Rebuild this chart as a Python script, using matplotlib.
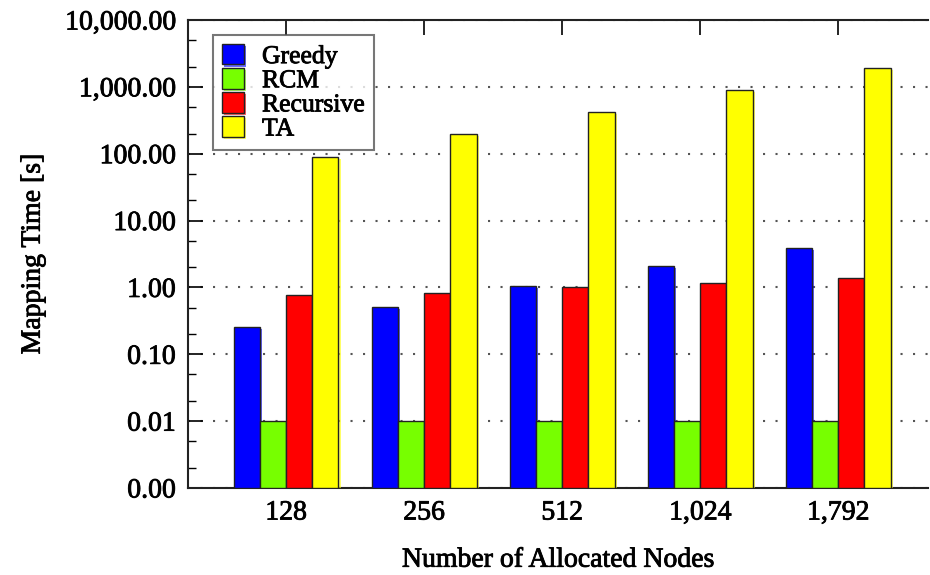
import matplotlib
matplotlib.use("Agg")
import matplotlib.pyplot as plt
import matplotlib.patheffects as pe
import numpy as np
from matplotlib.ticker import FixedLocator, FixedFormatter

categories = ["128", "256", "512", "1,024", "1,792"]
greedy = [0.26, 0.51, 1.05, 2.08, 3.87]
rcm = [0.01, 0.01, 0.01, 0.01, 0.01]
recursive = [0.77, 0.82, 1.03, 1.16, 1.38]
ta = [89, 196, 420, 890, 1900]
series_names = ["Greedy", "RCM", "Recursive", "TA"]
series_colors = ["#0000ff", "#77ff00", "#ff0000", "#ffff00"]
ytick_values = [0.001, 0.01, 0.1, 1, 10, 100, 1000, 10000]
ytick_labels = ["0.00", "0.01", "0.10", "1.00", "10.00", "100.00", "1,000.00", "10,000.00"]

plt.rcParams['font.family'] = ['Liberation Serif', 'DejaVu Serif']

thick = [pe.withStroke(linewidth=0.6, foreground='black')]

fig = plt.figure(figsize=(9.3, 5.75), dpi=100)
ax = fig.add_axes([188/930, 87/575, 740/930, 468/575])

ymin = 0.001
x = np.arange(len(categories))
width = 0.19
all_series = [greedy, rcm, recursive, ta]
for i, (vals, name, col) in enumerate(zip(all_series, series_names, series_colors)):
    offs = (i - 1.5) * width
    heights = np.array(vals) - ymin
    bars = ax.bar(x + offs, heights, width, bottom=ymin, color=col, edgecolor="#222222",
                  linewidth=1.0, label=name, zorder=3)
    for b in bars:
        b.set_path_effects([pe.SimplePatchShadow(offset=(1.5, -1.5), shadow_rgbFace=col, alpha=0.6),
                            pe.Normal()])

ax.set_yscale("log")
ax.set_ylim(ymin, 10000)
ax.set_xlim(-0.71, 4.65)
ax.yaxis.set_major_locator(FixedLocator(ytick_values))
ax.yaxis.set_major_formatter(FixedFormatter(ytick_labels))
minor = []
for d in range(-3, 4):
    minor += [2 * 10**d, 5 * 10**d]
ax.yaxis.set_minor_locator(FixedLocator(minor))
ax.yaxis.set_minor_formatter(FixedFormatter([""] * len(minor)))

ax.set_xticks(x)
ax.set_xticklabels(categories)
ax.tick_params(axis='both', which='major', labelsize=20, direction='in', length=11, width=1.2)
ax.tick_params(axis='y', which='minor', direction='in', length=6, width=1.0)
ax.tick_params(axis='x', which='major', top=True, pad=9)
ax.tick_params(axis='y', which='major', pad=9)
for t in ax.get_xticklabels() + ax.get_yticklabels():
    t.set_path_effects(thick)

ax.grid(axis='y', which='major', linestyle=(0, (1, 5)), color='#555555', linewidth=1.5, zorder=0)

for s in ['left', 'bottom', 'top']:
    ax.spines[s].set_linewidth(1.5)
    ax.spines[s].set_color('#222222')
ax.spines['right'].set_visible(False)

xl = ax.set_xlabel("Number of Allocated Nodes", fontsize=20, labelpad=16)
yl = ax.set_ylabel("Mapping Time [s]", fontsize=20, labelpad=14)
xl.set_path_effects(thick)
yl.set_path_effects(thick)

leg = ax.legend(loc='upper left', bbox_to_anchor=(0.034, 0.968), fontsize=18.5, frameon=True,
                fancybox=False, edgecolor='#555555', handlelength=0.85, handleheight=0.85,
                handletextpad=0.7, labelspacing=0.0, borderpad=0.35, borderaxespad=0.0)
leg.get_frame().set_linewidth(1.5)
for t in leg.get_texts():
    t.set_path_effects(thick)

fig.savefig("out.png", dpi=100)
